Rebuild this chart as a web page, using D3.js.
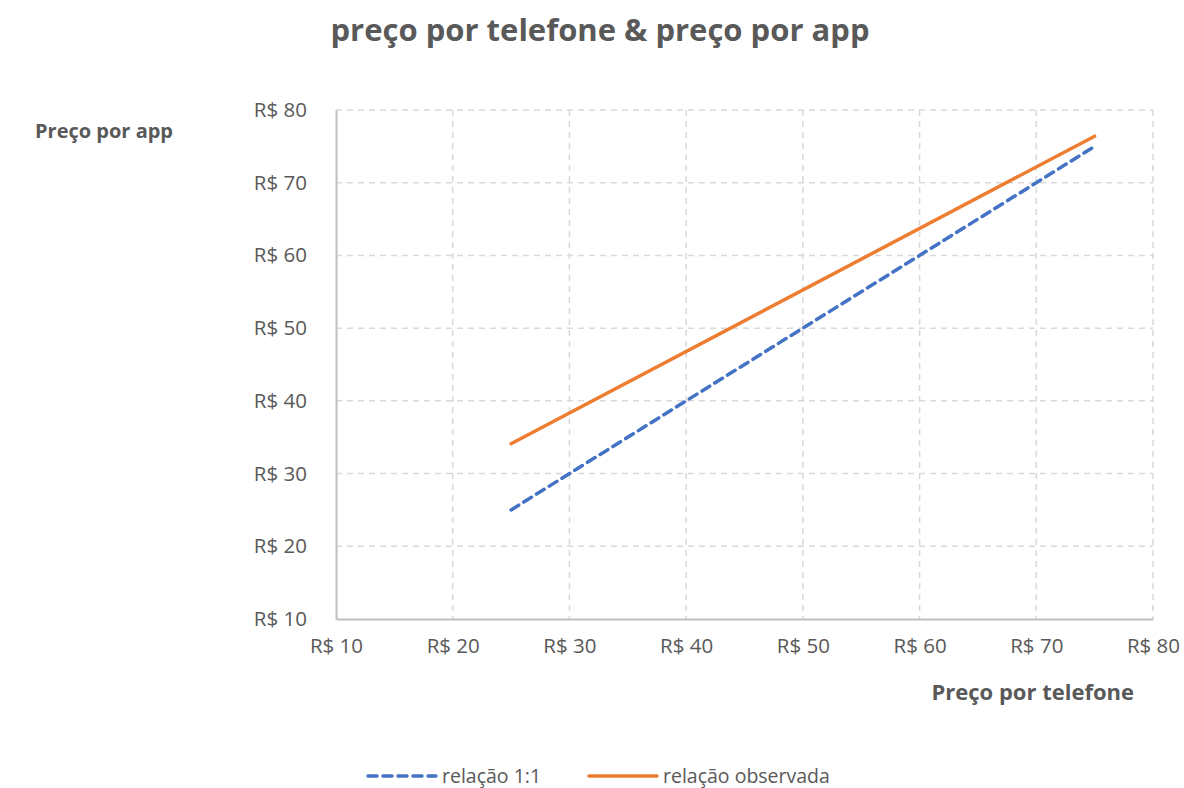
<!DOCTYPE html>
<html>
<head>
<meta charset="utf-8">
<script src="https://cdn.jsdelivr.net/npm/d3@7"></script>
<style>
  body { margin: 0; background: #fff; }
  text { font-family: "Open Sans", "Liberation Sans", sans-serif; fill: #595959; }
</style>
</head>
<body>
<svg id="chart" width="1184" height="788"></svg>
<script>
// data
var seriesNames = ["relação 1:1", "relação observada"];
var xValues = [25, 75];
var oneToOne = [25, 75];
var observed = [34.1, 76.4];
var tickValues = [10, 20, 30, 40, 50, 60, 70, 80];

var svg = d3.select("#chart");
var plotL = 336, plotR = 1153, plotT = 110, plotB = 619;

var x = d3.scaleLinear().domain([10, 80]).range([plotL, plotR]);
var y = d3.scaleLinear().domain([10, 80]).range([plotB, plotT]);
var fmt = function(d){ return "R$ " + d; };

// gridlines
svg.append("g").selectAll("line").data(tickValues.slice(1)).enter()
   .append("line")
   .attr("x1", function(d){ return x(d); }).attr("x2", function(d){ return x(d); })
   .attr("y1", plotT).attr("y2", plotB)
   .attr("stroke", "#d9d9d9").attr("stroke-width", 1.5).attr("stroke-dasharray", "6,5");
svg.append("g").selectAll("line").data(tickValues.slice(1)).enter()
   .append("line")
   .attr("y1", function(d){ return y(d); }).attr("y2", function(d){ return y(d); })
   .attr("x1", plotL).attr("x2", plotR)
   .attr("stroke", "#d9d9d9").attr("stroke-width", 1.5).attr("stroke-dasharray", "6,5");

// axes
var xAxis = svg.append("g").attr("transform", "translate(0," + plotB + ")")
   .call(d3.axisBottom(x).tickValues(tickValues).tickFormat(fmt).tickSize(0).tickPadding(19));
var yAxis = svg.append("g").attr("transform", "translate(" + plotL + ",0)")
   .call(d3.axisLeft(y).tickValues(tickValues).tickFormat(fmt).tickSize(0).tickPadding(29));
[xAxis, yAxis].forEach(function(a){
  a.select(".domain").attr("stroke", "#bfbfbf").attr("stroke-width", 2);
  a.selectAll("text").style("font-size", "20.5px").attr("fill", "#595959")
   .style("font-family", "'Open Sans', sans-serif");
});

// lines
var line = d3.line().x(function(d){ return x(d[0]); }).y(function(d){ return y(d[1]); });
svg.append("path").datum(d3.zip(xValues, oneToOne))
   .attr("d", line).attr("fill", "none").attr("stroke", "#4472c4")
   .attr("stroke-width", 3.5).attr("stroke-dasharray", "9,6").attr("stroke-linecap", "round");
svg.append("path").datum(d3.zip(xValues, observed))
   .attr("d", line).attr("fill", "none").attr("stroke", "#ed7d31")
   .attr("stroke-width", 3.5).attr("stroke-linecap", "round");

// titles
svg.append("text").attr("x", 600).attr("y", 41).attr("text-anchor", "middle")
   .style("font-size", "31px").style("font-weight", "bold").text("preço por telefone & preço por app");
svg.append("text").attr("x", 35).attr("y", 138)
   .style("font-size", "20px").style("font-weight", "bold").text("Preço por app");
svg.append("text").attr("x", 1134).attr("y", 700).attr("text-anchor", "end")
   .style("font-size", "22px").style("font-weight", "bold").text("Preço por telefone");

// legend
var leg = svg.append("g");
var legItems = [
  {name: seriesNames[0], color: "#4472c4", dash: "9,6", x0: 368},
  {name: seriesNames[1], color: "#ed7d31", dash: null, x0: 589}
];
legItems.forEach(function(it){
  leg.append("line").attr("x1", it.x0).attr("x2", it.x0 + 68).attr("y1", 776).attr("y2", 776)
     .attr("stroke", it.color).attr("stroke-width", 3.5)
     .attr("stroke-dasharray", it.dash).attr("stroke-linecap", "round");
  leg.append("text").attr("x", it.x0 + 74).attr("y", 783)
     .style("font-size", "19.5px").text(it.name);
});
</script>
</body>
</html>
